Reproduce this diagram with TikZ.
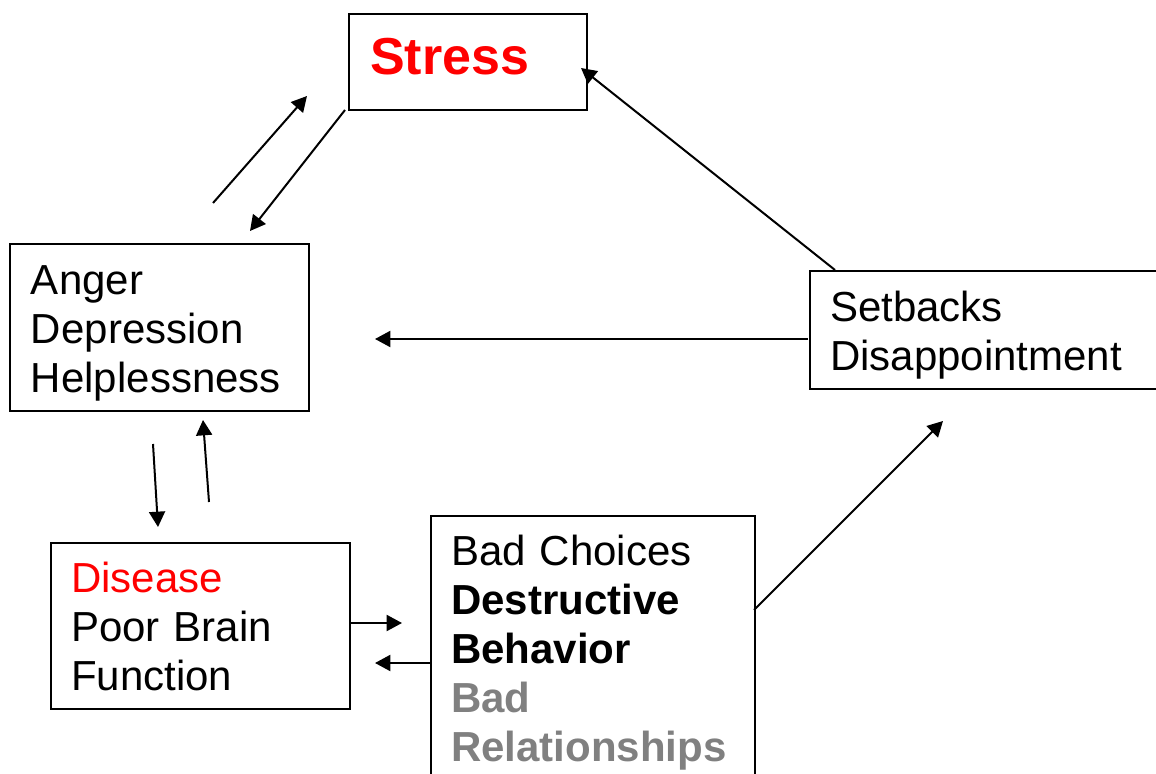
\documentclass[tikz,border=0pt]{standalone}
\usepackage{fontspec}
\setmainfont{Liberation Sans}
\usetikzlibrary{arrows.meta}

\definecolor{relgray}{RGB}{128,128,128}

\tikzset{every picture/.style={line width=1.5pt}}
\tikzset{
  box/.style={draw, anchor=north west, align=left, inner ysep=0pt,
    font=\fontsize{31.5}{36.75}\selectfont},
  link/.style={-{Triangle[length=11.5pt,width=12pt]}}
}

\begin{document}
\begin{tikzpicture}[x=0.75pt,y=0.75pt,yscale=-1,xscale=1]
\useasboundingbox (0,0) rectangle (1156,774);
\clip (0,0) rectangle (1156,774);

%Shape: Rectangle [id:stress]
\node [box, inner xsep=15.75pt, text width=147pt, minimum width=178.5pt, minimum height=72pt,
  font=\fontsize{39}{45}\selectfont\bfseries, text=red] (stress) at (348,13) {Stress\rule[-9pt]{0pt}{1pt}};
%Shape: Rectangle [id:mood]
\node [box, inner xsep=15.75pt, text width=192.75pt, minimum width=224.25pt, minimum height=125.25pt] (mood) at (9,243)
  {\rule{0pt}{30pt}Anger\\Depression\\Helplessness};
%Shape: Rectangle [id:setbacks]
\node [box, inner xsep=15pt, text width=244.5pt, minimum width=274.5pt, minimum height=88.5pt] (setbacks) at (809,270)
  {\rule{0pt}{30pt}Setbacks\\Disappointment};
%Shape: Rectangle [id:disease]
\node [box, inner xsep=15pt, text width=194.25pt, minimum width=224.25pt, minimum height=124.5pt] (disease) at (50,542)
  {\textcolor{red}{Disease}\\Poor Brain\\Function};
%Shape: Rectangle [id:choices]
\node [box, inner xsep=15pt, text width=213pt, minimum width=243pt, minimum height=200.25pt] (choices) at (430,515)
  {\rule{0pt}{27.5pt}Bad Choices\\\textbf{Destructive}\\\textbf{Behavior}\\\textcolor{relgray}{\textbf{Bad}}\\\textcolor{relgray}{\textbf{Relationships}}};

% arrow ends
\coordinate (moodUp) at (213,203);
\coordinate (stressIn) at (307,96);
\coordinate (stressOut) at (345,110);
\coordinate (moodIn) at (250,231);
\coordinate (moodDown) at (153,444);
\coordinate (diseaseIn) at (158,527);
\coordinate (diseaseUp) at (209,502);
\coordinate (moodBack) at (203,420);
\coordinate (diseaseOut) at (350,623);
\coordinate (choicesIn) at (402,623);
\coordinate (choicesOut) at (430,663);
\coordinate (diseaseBack) at (375,663);
\coordinate (setbacksUp) at (835,270);
\coordinate (stressBack) at (581,68);
\coordinate (choicesUp) at (754,610);
\coordinate (setbacksIn) at (943,421);
\coordinate (setbacksOut) at (808,339);
\coordinate (moodSide) at (375,339);

%Straight Lines
\draw [link] (moodUp) -- (stressIn);
\draw [link] (stressOut) -- (moodIn);
\draw [link] (moodDown) -- (diseaseIn);
\draw [link] (diseaseUp) -- (moodBack);
\draw [link] (diseaseOut) -- (choicesIn);
\draw [link] (choicesOut) -- (diseaseBack);
\draw [link] (setbacksUp) -- (stressBack);
\draw [link] (choicesUp) -- (setbacksIn);
\draw [link] (setbacksOut) -- (moodSide);

\end{tikzpicture}
\end{document}
